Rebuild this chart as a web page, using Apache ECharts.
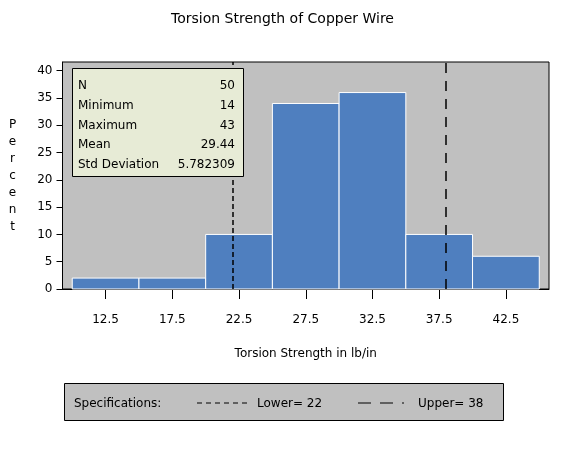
<!DOCTYPE html>
<html>
<head>
<meta charset="utf-8">
<script src="https://cdn.jsdelivr.net/npm/echarts@6/dist/echarts.min.js"></script>
<style>html,body{margin:0;padding:0;background:#fff;}#c{width:565px;height:450px;}</style>
</head>
<body>
<div id="c"></div>
<script>
// ---- data ----
var binStarts = [10, 15, 20, 25, 30, 35, 40];
var binEnds   = [15, 20, 25, 30, 35, 40, 45];
var percents  = [2, 2, 10, 34, 36, 10, 6];
var xTickValues = [12.5, 17.5, 22.5, 27.5, 32.5, 37.5, 42.5];
var yTickValues = [0, 5, 10, 15, 20, 25, 30, 35, 40];
var statLabels = ['N', 'Minimum', 'Maximum', 'Mean', 'Std Deviation'];
var statValues = ['50', '14', '43', '29.44', '5.782309'];
var specLower = 22;
var specUpper = 38;

var FONT = '"DejaVu Sans", Verdana, sans-serif';
var barData = binStarts.map(function (s, i) { return [s, binEnds[i], percents[i]]; });

var graphics = [];
// inset box
graphics.push({type:'rect', left:72, top:68, z:100, shape:{width:171, height:108},
  style:{fill:'#e7ebd6', stroke:'#000', lineWidth:1}});
var rowY = [85.5, 106, 125.5, 145, 165];
statLabels.forEach(function (l, i) {
  graphics.push({type:'text', z:101, x:78, y:rowY[i],
    style:{text:l, font:'12px ' + FONT, fill:'#000', textAlign:'left', textVerticalAlign:'middle'}});
  graphics.push({type:'text', z:101, x:235, y:rowY[i],
    style:{text:statValues[i], font:'12px ' + FONT, fill:'#000', textAlign:'right', textVerticalAlign:'middle'}});
});
// legend box
graphics.push({type:'rect', left:64, top:383, z:100, shape:{width:439, height:37},
  style:{fill:'#c0c0c0', stroke:'#000', lineWidth:1}});
graphics.push({type:'text', z:101, x:74, y:404,
  style:{text:'Specifications:', font:'12px ' + FONT, fill:'#000', textAlign:'left', textVerticalAlign:'middle'}});
graphics.push({type:'line', z:101, shape:{x1:197, y1:403, x2:248, y2:403},
  style:{stroke:'#000', lineWidth:1, lineDash:[5,4]}});
graphics.push({type:'text', z:101, x:257, y:404,
  style:{text:'Lower= ' + specLower, font:'12px ' + FONT, fill:'#000', textAlign:'left', textVerticalAlign:'middle'}});
graphics.push({type:'line', z:101, shape:{x1:358, y1:403, x2:404, y2:403},
  style:{stroke:'#000', lineWidth:1, lineDash:[13,9]}});
graphics.push({type:'text', z:101, x:418, y:404,
  style:{text:'Upper= ' + specUpper, font:'12px ' + FONT, fill:'#000', textAlign:'left', textVerticalAlign:'middle'}});

var chart = echarts.init(document.getElementById('c'), null, {renderer:'canvas'});
chart.setOption({
  animation: false,
  backgroundColor: '#fff',
  textStyle: {fontFamily: FONT},
  title: {text: 'Torsion Strength of Copper Wire', left: 'center', top: 7,
    textStyle: {fontSize: 14, fontWeight: 'normal', color: '#000', fontFamily: FONT}},
  grid: {left: 62.5, right: 16, top: 62, bottom: 161, show: true,
    backgroundColor: '#c0c0c0', borderColor: '#000', borderWidth: 1},
  xAxis: {
    type: 'value', min: 9.27, max: 45.73,
    name: 'Torsion Strength in lb/in', nameLocation: 'middle', nameGap: 59,
    nameTextStyle: {fontSize: 12, color: '#000', fontFamily: FONT},
    axisLine: {show: true, onZero: false, lineStyle: {color: '#000'}},
    axisTick: {show: true, length: 10, customValues: xTickValues, lineStyle: {color: '#000'}},
    axisLabel: {customValues: xTickValues, margin: 25, fontSize: 12, color: '#000', fontFamily: FONT},
    splitLine: {show: false}
  },
  yAxis: {
    type: 'value', min: 0, max: 41.6,
    name: 'P\ne\nr\nc\ne\nn\nt', nameLocation: 'middle', nameRotate: 0, nameGap: 50,
    nameTextStyle: {fontSize: 12, lineHeight: 17, color: '#000', align: 'center', verticalAlign: 'middle', fontFamily: FONT},
    axisLine: {show: true, lineStyle: {color: '#000'}},
    axisTick: {show: true, length: 6, customValues: yTickValues, lineStyle: {color: '#000'}},
    axisLabel: {customValues: yTickValues, margin: 10, fontSize: 12, color: '#000', fontFamily: FONT},
    splitLine: {show: false}
  },
  series: [{
    type: 'custom',
    data: barData,
    encode: {x: [0, 1], y: 2},
    renderItem: function (params, api) {
      var lo = api.value(0), hi = api.value(1), v = api.value(2);
      var p0 = api.coord([lo, 0]), p1 = api.coord([hi, v]);
      return {type: 'rect',
        shape: {x: p0[0], y: p1[1], width: p1[0] - p0[0], height: p0[1] - p1[1]},
        style: {fill: '#4f7fbf', stroke: '#ffffff', lineWidth: 1}};
    },
    markLine: {
      silent: true, symbol: 'none', label: {show: false},
      data: [
        {xAxis: specLower, lineStyle: {color: '#000', width: 1.5, type: [5, 3]}},
        {xAxis: specUpper, lineStyle: {color: '#000', width: 1.5, type: [10, 8]}}
      ]
    }
  }],
  graphic: graphics
});
</script>
</body>
</html>
